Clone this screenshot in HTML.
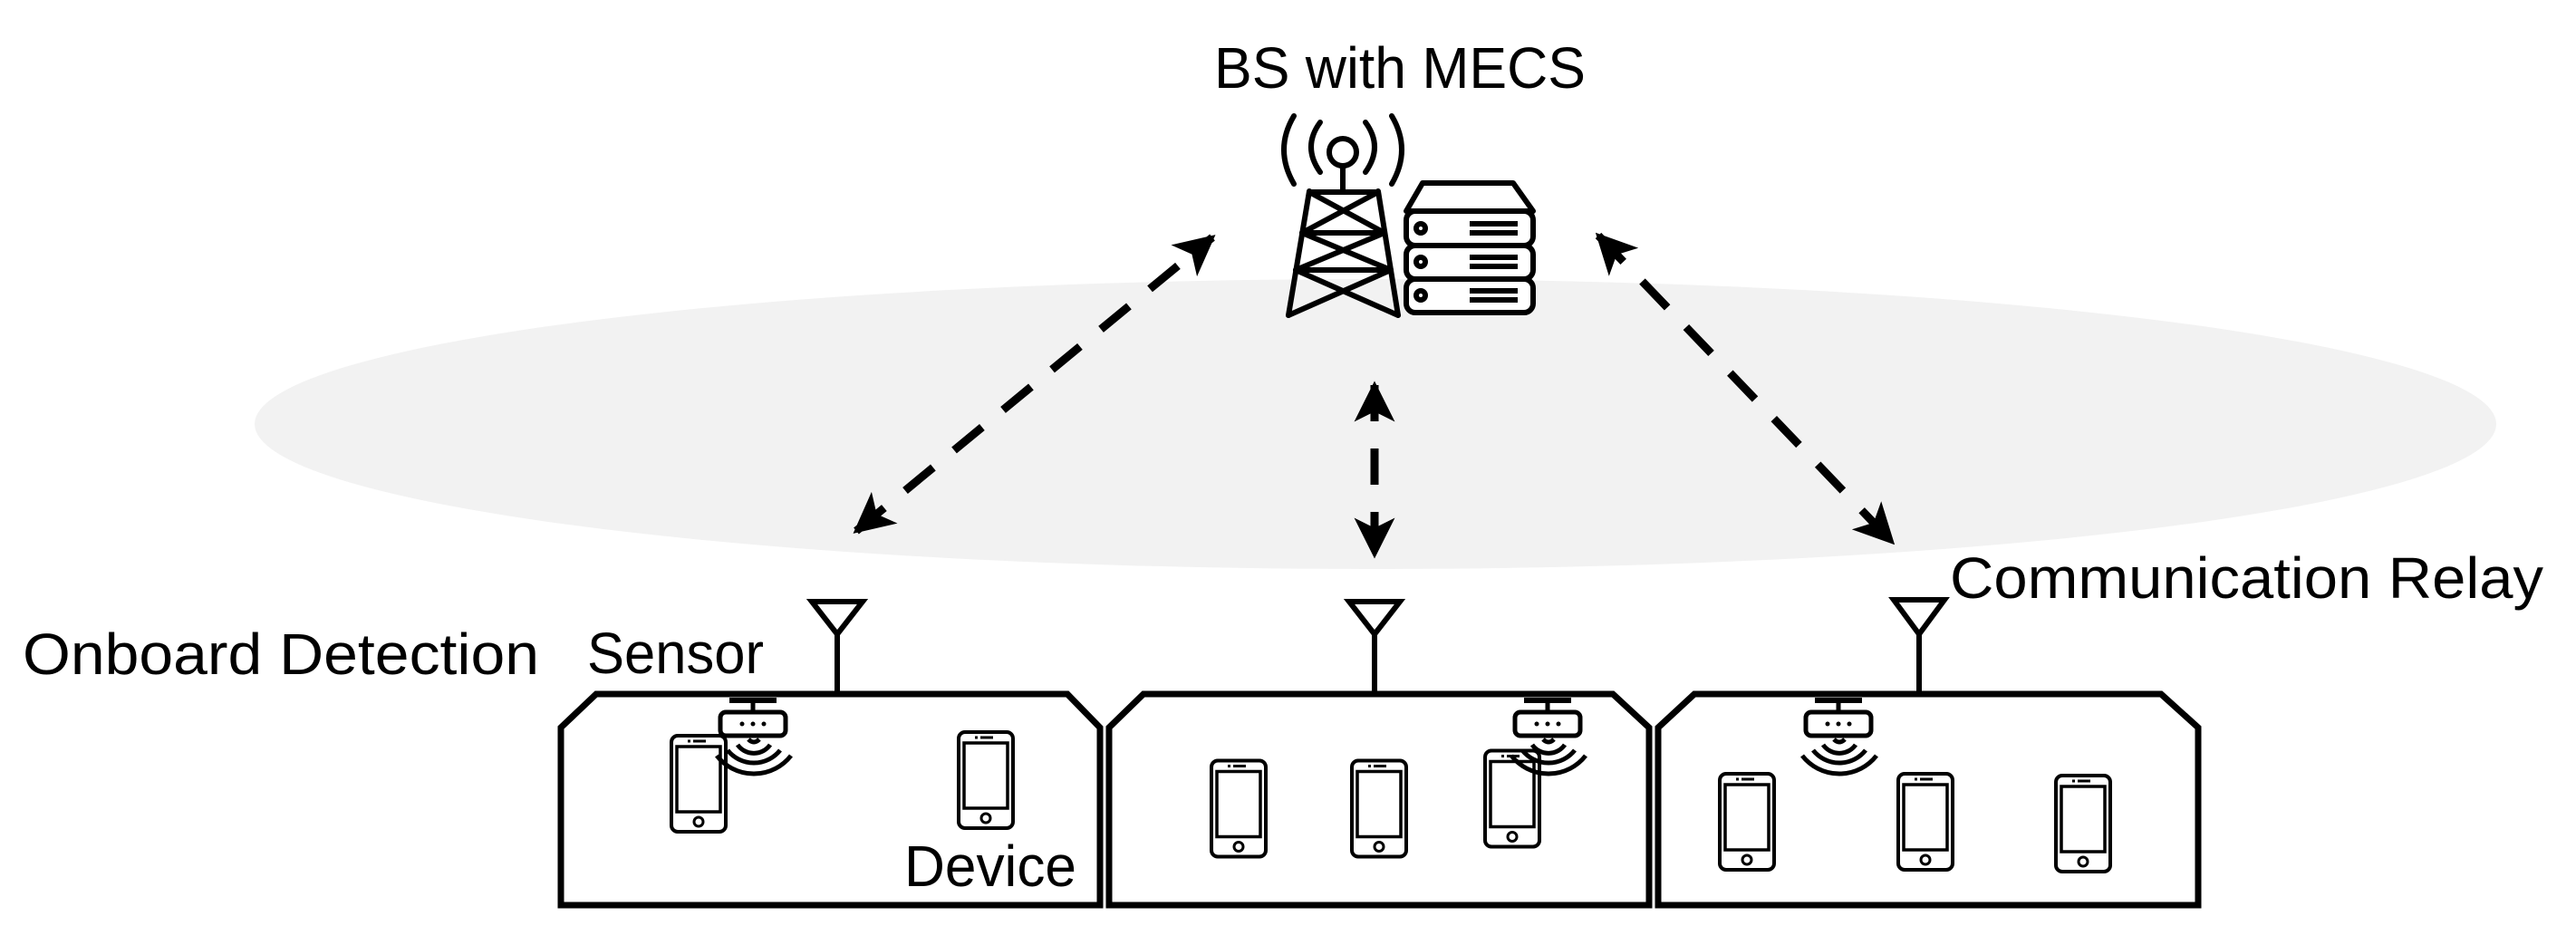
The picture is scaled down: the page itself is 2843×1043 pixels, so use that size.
<!DOCTYPE html>
<html><head><meta charset="utf-8"><style>
html,body{margin:0;padding:0;background:#fff;}
svg{display:block;}
text{font-family:"Liberation Sans",sans-serif;font-size:64px;fill:#000;}
</style></head><body>
<svg width="2843" height="1043" viewBox="0 0 2843 1043" xmlns="http://www.w3.org/2000/svg">
<defs>
<symbol id="ph" viewBox="0 0 64 110" overflow="visible">
<rect x="2" y="2" width="60" height="106" rx="7" fill="#fff" stroke="#000" stroke-width="4"/>
<rect x="8" y="14" width="48" height="72" fill="none" stroke="#000" stroke-width="3.5"/>
<line x1="26" y1="8" x2="40" y2="8" stroke="#000" stroke-width="3"/>
<line x1="20" y1="8" x2="23" y2="8" stroke="#000" stroke-width="3"/>
<circle cx="32" cy="97" r="5" fill="none" stroke="#000" stroke-width="3"/>
</symbol>
<symbol id="rt" viewBox="0 0 120 100" overflow="visible">
<line x1="12" y1="3" x2="64" y2="3" stroke="#000" stroke-width="6"/>
<line x1="38" y1="3" x2="38" y2="16" stroke="#000" stroke-width="5"/>
<rect x="2" y="16" width="72" height="26" rx="6" fill="#fff" stroke="#000" stroke-width="5"/>
<circle cx="26" cy="29" r="2.5"/><circle cx="38" cy="29" r="2.5"/><circle cx="50" cy="29" r="2.5"/>
<g fill="none" stroke="#000" stroke-width="5">
<path d="M33 46 Q39 52 45 46"/>
<path d="M21 52 A22 22 0 0 0 57 52"/>
<path d="M10 58 A37 37 0 0 0 68 58"/>
<path d="M-2 64 A52 52 0 0 0 80 64"/>
</g>
</symbol>
<marker id="ah" viewBox="0 0 10 10" refX="9" refY="5" markerWidth="5" markerHeight="5" orient="auto-start-reverse" markerUnits="strokeWidth">
<path d="M0 0 L10 5 L0 10 L2.5 5 z" fill="#000"/>
</marker>
</defs>

<ellipse cx="1518" cy="468" rx="1237" ry="160" fill="#f2f2f2"/>

<!-- BS text -->
<text x="1340" y="97" textLength="410" lengthAdjust="spacingAndGlyphs">BS with MECS</text>

<!-- tower -->
<g fill="none" stroke="#000" stroke-width="6" stroke-linecap="round" stroke-linejoin="round">
<circle cx="1482" cy="168" r="15"/>
<line x1="1482" y1="183" x2="1482" y2="211"/>
<path d="M1457 135 Q1437 162 1457 190"/>
<path d="M1507 135 Q1527 162 1507 190"/>
<path d="M1428 128 Q1406 165 1428 203"/>
<path d="M1536 128 Q1558 165 1536 203"/>
<polyline points="1445,211 1422,348"/>
<polyline points="1521,211 1543,348"/>
<line x1="1445" y1="212" x2="1521" y2="212"/>
<line x1="1445" y1="212" x2="1528" y2="257"/>
<line x1="1521" y1="212" x2="1437" y2="257"/>
<line x1="1437" y1="257" x2="1528" y2="257"/>
<line x1="1437" y1="257" x2="1535" y2="298"/>
<line x1="1528" y1="257" x2="1430" y2="298"/>
<line x1="1430" y1="298" x2="1535" y2="298"/>
<line x1="1430" y1="298" x2="1543" y2="348"/>
<line x1="1535" y1="298" x2="1422" y2="348"/>
</g>
<!-- server -->
<g fill="#fff" stroke="#000" stroke-width="6" stroke-linejoin="round">
<path d="M1570 202 L1670 202 L1692 233 L1552 233 Z"/>
<rect x="1552" y="233" width="140" height="38" rx="10"/>
<rect x="1552" y="271" width="140" height="37" rx="10"/>
<rect x="1552" y="308" width="140" height="37" rx="10"/>
<g fill="none">
<circle cx="1568" cy="252" r="5"/><circle cx="1568" cy="289" r="5"/><circle cx="1568" cy="326" r="5"/>
<line x1="1622" y1="247" x2="1675" y2="247"/><line x1="1622" y1="257" x2="1675" y2="257"/>
<line x1="1622" y1="284" x2="1675" y2="284"/><line x1="1622" y1="294" x2="1675" y2="294"/>
<line x1="1622" y1="321" x2="1675" y2="321"/><line x1="1622" y1="331" x2="1675" y2="331"/>
</g>
</g>

<!-- arrows -->
<g stroke="#000" stroke-width="9" fill="none" stroke-dasharray="40 30">
<line x1="945" y1="586" x2="1338" y2="262" marker-start="url(#ah)" marker-end="url(#ah)"/>
<line x1="1517" y1="425" x2="1517" y2="612" marker-start="url(#ah)" marker-end="url(#ah)"/>
<line x1="1764" y1="260" x2="2088" y2="598" marker-start="url(#ah)" marker-end="url(#ah)"/>
</g>

<!-- boxes -->
<g fill="#fff" stroke="#000" stroke-width="7" stroke-linejoin="miter">
<path d="M619 999 L619 803 L658 766 L1178 766 L1214 803 L1214 999 Z"/>
<path d="M1224 999 L1224 803 L1262 766 L1780 766 L1820 803 L1820 999 Z"/>
<path d="M1830 999 L1830 803 L1870 766 L2385 766 L2426 803 L2426 999 Z"/>
</g>
<!-- antennas -->
<g fill="none" stroke="#000" stroke-width="6">
<path d="M896 664 L952 664 L924 700 Z"/><line x1="924" y1="700" x2="924" y2="766"/>
<path d="M1489 664 L1545 664 L1517 700 Z"/><line x1="1517" y1="700" x2="1517" y2="766"/>
<path d="M2090 662 L2146 662 L2118 700 Z"/><line x1="2118" y1="700" x2="2118" y2="766"/>
</g>

<!-- labels -->
<text x="25" y="744" textLength="570" lengthAdjust="spacingAndGlyphs">Onboard Detection</text>
<text x="648" y="743" textLength="195" lengthAdjust="spacingAndGlyphs">Sensor</text>
<text x="998" y="978" textLength="190" lengthAdjust="spacingAndGlyphs">Device</text>
<text x="2152" y="660" textLength="655" lengthAdjust="spacingAndGlyphs">Communication Relay</text>

<!-- box 1 -->
<use href="#ph" x="739" y="810" width="64" height="110"/>
<use href="#rt" x="793" y="770" width="120" height="100"/>
<use href="#ph" x="1056" y="806" width="64" height="110"/>
<!-- box 2 -->
<use href="#ph" x="1335" y="837" width="64" height="111"/>
<use href="#ph" x="1490" y="837" width="64" height="111"/>
<use href="#ph" x="1637" y="826" width="64" height="111"/>
<use href="#rt" x="1670" y="770" width="120" height="100"/>
<!-- box 3 -->
<use href="#rt" x="1991" y="770" width="120" height="100"/>
<use href="#ph" x="1896" y="851" width="64" height="112"/>
<use href="#ph" x="2093" y="851" width="64" height="112"/>
<use href="#ph" x="2267" y="853" width="64" height="112"/>
</svg>
</body></html>
